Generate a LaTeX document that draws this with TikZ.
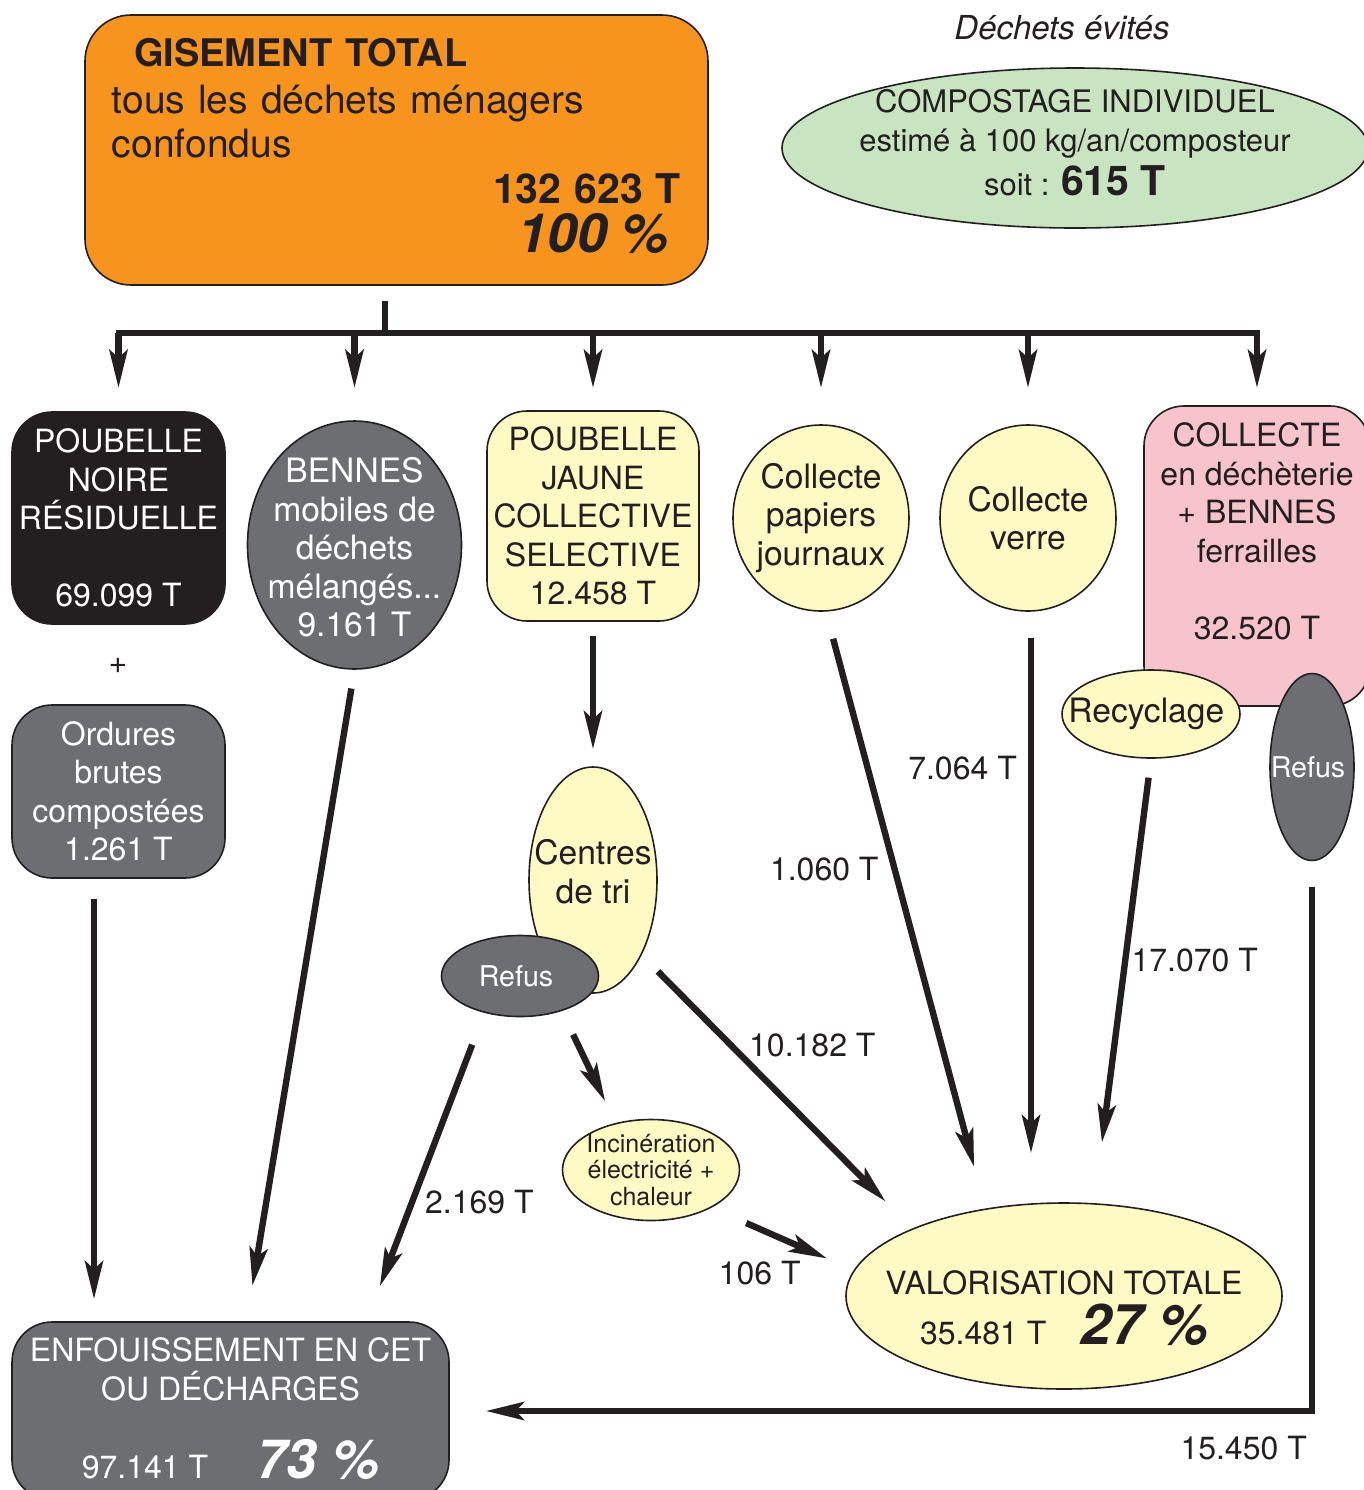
\documentclass[tikz,border=0pt]{standalone}
\usepackage{fontspec}
\setmainfont{TeX Gyre Heros}
\usetikzlibrary{arrows.meta, shapes.geometric, positioning}

\definecolor{orangeGis}{RGB}{247,148,30}
\definecolor{vertComp}{RGB}{200,228,192}
\definecolor{jauneVal}{RGB}{255,249,196}
\definecolor{grisRes}{RGB}{109,110,113}
\definecolor{noirRes}{RGB}{35,31,32}
\definecolor{roseDech}{RGB}{248,196,204}

\tikzset{
	block/.style={draw=noirRes, line width=0.8pt, align=center, text=noirRes,
		font=\fontsize{16}{19.25}\selectfont},
	block round/.style={block, rectangle, rounded corners=20pt, inner sep=2pt},
	block ell/.style={block, ellipse, inner sep=-30pt,
		font=\fontsize{16.8}{19.25}\selectfont},
	flow/.style={draw=noirRes, line width=3.2pt,
		-{Stealth[length=19pt, width=9pt, inset=4pt]}},
	bar/.style={draw=noirRes, line width=3pt},
	qty/.style={inner sep=0pt, text=noirRes, font=\fontsize{16}{19.25}\selectfont},
}

\begin{document}
\begin{tikzpicture}[x=0.5pt, y=-0.5pt]

		\useasboundingbox (0,0) rectangle (1364,1490);

		% Gisement
		\node [block round, fill=orangeGis, rounded corners=23pt, minimum width=311.5pt,
			minimum height=135pt, text width=284.5pt, align=left,
			font=\fontsize{19.5}{22}\selectfont] (gis) at (396.5,150) {
			\hspace*{11pt}{\fontsize{19}{22}\selectfont\bfseries GISEMENT TOTAL}\\[1.75pt]
			tous les déchets ménagers\\
			confondus\\[0.75pt]
			\mbox{}\hfill{\fontsize{20.5}{22}\selectfont\bfseries 132 623 T}\\[2.5pt]
			\mbox{}\hfill{\fontsize{27}{22}\selectfont\bfseries\itshape 100 \%}\hspace*{6pt}\rule[-5pt]{0pt}{5pt}
		};

		% Compostage
		\node [block ell, fill=vertComp, minimum width=293pt, minimum height=80pt,
			font=\fontsize{15.5}{19.5}\selectfont] (compost) at (1075,148) {
			COMPOSTAGE INDIVIDUEL\\
			estimé à 100 kg/an/composteur\\[2.3pt]
			soit : {\fontsize{20.5}{22}\selectfont\bfseries 615 T}\rule[-5.5pt]{0pt}{5.5pt}
		};
		\node [qty, font=\fontsize{16.5}{20}\selectfont\itshape, above=13.5pt of compost,
			xshift=-6.5pt] (evites) {
			Déchets évités
		};

		% Collectes
		\node [block round, fill=noirRes, text=white, minimum width=106.5pt,
			minimum height=106pt] (noire) at (118.5,518) {
			POUBELLE\\ NOIRE\\ RÉSIDUELLE\\[19pt] 69.099 T
		};
		\node [block ell, fill=grisRes, text=white, minimum width=107pt,
			minimum height=124pt] (bennes) at (354.5,545) {
			\rule{0pt}{15.2pt}BENNES\\ mobiles de\\ déchets\\ mélangés...\\ 9.161 T
		};
		\node [block round, fill=jauneVal, minimum width=106pt,
			minimum height=105pt] (jaune) at (593,516) {
			POUBELLE\\ JAUNE\\ COLLECTIVE\\ SELECTIVE\\ 12.458 T
		};
		\node [block ell, fill=jauneVal, minimum width=88pt,
			minimum height=93pt] (papiers) at (821,518) {
			Collecte\\ papiers\\ journaux
		};
		\node [block ell, fill=jauneVal, minimum width=88pt,
			minimum height=93pt] (verre) at (1028,518) {
			Collecte\\ verre
		};
		\node [block round, fill=roseDech, minimum width=113pt,
			minimum height=150pt] (dech) at (1257,556) {
			COLLECTE\\ en déchèterie\\ + BENNES\\ ferrailles\\[19.25pt]
			32.520 T\rule[-25pt]{0pt}{25pt}
		};
		\node [block ell, fill=jauneVal, minimum width=89pt,
			minimum height=44pt] (recyc) at (1151,714) {
			Recyclage
		};
		\node [block ell, fill=grisRes, text=white, minimum width=42pt, minimum height=93.5pt,
			font=\fontsize{14.3}{17}\selectfont] (refusB) at (1312,767) {
			Refus
		};

		% Compostage brut
		\node [qty] (plus) at (118,666) {+};
		\node [block round, fill=grisRes, text=white, minimum width=106.5pt,
			minimum height=86.5pt] (ordures) at (118.5,791.5) {
			Ordures\\ brutes\\ compostées\\ 1.261 T
		};

		% Tri
		\node [block ell, fill=jauneVal, minimum width=64pt,
			minimum height=113pt] (centres) at (593,880) {
			Centres\\ de tri\rule[-8.5pt]{0pt}{8.5pt}
		};
		\node [block ell, fill=grisRes, text=white, minimum width=78.5pt, minimum height=40.5pt,
			font=\fontsize{14.3}{17}\selectfont] (refusA) at (520,976) {
			Refus
		};
		\node [block ell, fill=jauneVal, minimum width=88.5pt, minimum height=50.5pt,
			font=\fontsize{12.5}{13.25}\selectfont] (incin) at (651,1170) {
			Incinération\\ électricité +\\ chaleur
		};

		% Bilan
		\node [block ell, fill=jauneVal, minimum width=218pt, minimum height=93pt,
			font=\fontsize{16}{19.5}\selectfont] (valo) at (1064,1296) {
			\rule{0pt}{24pt}VALORISATION TOTALE\\[3.5pt]
			35.481 T\hspace{17pt}{\fontsize{28}{28}\selectfont\bfseries\itshape 27 \%}
		};
		\node [block round, fill=grisRes, text=white, minimum width=218.5pt,
			minimum height=89pt] (enf) at (230.5,1411) {
			ENFOUISSEMENT EN CET\\ OU DÉCHARGES\\[18pt]
			97.141 T\hspace{24pt}{\fontsize{27}{27}\selectfont\bfseries\itshape 73 \%}\rule[-3pt]{0pt}{3pt}
		};

		% Repartition
		\coordinate (split) at (385,333);
		\coordinate (tips) at (0,388);
		\draw [bar, shorten <=7.5pt] (gis.south -| split) -- (split);
		\draw [bar, line cap=rect] (split -| noire) -- (split -| dech);
		\foreach \n in {noire, bennes, jaune, papiers, verre, dech}
			\draw [flow] (split -| \n) -- (tips -| \n);

		% Vers enfouissement
		\coordinate (ordOut) at ([xshift=-12.25pt]ordures.south);
		\draw [flow, shorten <=10pt, shorten >=11pt] (ordOut) -- (ordOut |- enf.north);
		\draw [flow, shorten <=9.5pt, shorten >=18pt] (bennes.south) -- ([xshift=8pt]enf.north);
		\draw [flow, shorten <=17pt, shorten >=18.7pt] (refusA.-134) --
			node [qty, pos=0.615, right=5pt] {2.169 T}
			([xshift=68pt]enf.north);
		\draw [flow, shorten <=12.75pt, shorten >=18pt] (refusB.south) |-
			node [qty, pos=0.5, below left=10.75pt and 1pt] {15.450 T}
			(enf.east);

		% Tri
		\draw [flow, shorten <=7pt, shorten >=8.5pt] (jaune) -- (centres);
		\draw [flow, shorten <=13pt, shorten >=12pt] (refusA.-40) -- (incin.127);

		% Vers valorisation
		\draw [flow, shorten <=11.5pt, shorten >=19pt] (centres.-57) --
			node [qty, pos=0.33, right=7.5pt] {10.182 T}
			(valo.156);
		\draw [flow, shorten <=19pt, shorten >=14.5pt] (incin.-32) --
			node [qty, pos=0.34, below=14.5pt] {106 T}
			(valo.173);
		\draw [flow, shorten <=14pt, shorten >=21.5pt] (papiers.-87) --
			node [qty, pos=0.432, left=6.5pt] {1.060 T}
			(valo.132);
		\coordinate (verreOut) at ([xshift=1.5pt]verre.south);
		\draw [flow, shorten <=13pt, shorten >=24.5pt] (verreOut) --
			node [qty, pos=0.264, left=5.5pt] {7.064 T}
			(verreOut |- valo.north);
		\draw [flow, shorten <=9.5pt, shorten >=30.5pt] (recyc.south) --
			node [qty, pos=0.452, right=1.5pt] {17.070 T}
			(valo.72);

\end{tikzpicture}
\end{document}
